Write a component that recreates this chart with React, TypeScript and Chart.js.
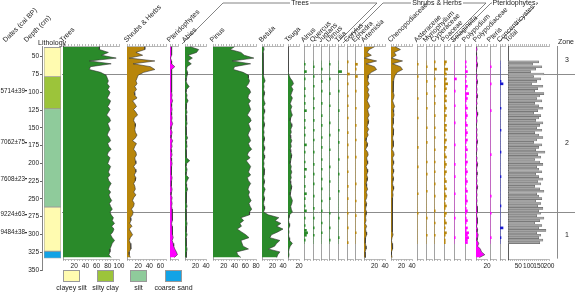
import React, { useEffect, useRef } from 'react';
import { Chart, registerables } from 'chart.js';
Chart.register(...registerables);
Chart.defaults.font.family = '"Liberation Sans", Arial, sans-serif';
Chart.defaults.color = '#222';

// ---------------- DATA ----------------
const DEPTHS = [36, 40, 44, 48, 52, 56, 60, 64, 68, 72, 76, 80, 84, 88, 92,
  96, 100, 104, 108, 112, 116, 120, 124, 128, 132, 136, 140, 144, 148, 152,
  156, 160, 164, 168, 172, 176, 180, 184, 188, 192, 196, 200, 204, 208, 212,
  216, 220, 224, 228, 232, 236, 240, 244, 248, 252, 256, 260, 264, 268, 272,
  276, 280, 284, 288, 292, 296, 300, 304, 308, 312, 316, 320, 324, 328, 332];

const TREES = [65, 65, 81, 69, 95, 47, 86, 49, 47, 67, 77, 79, 81, 79, 83,
  80, 84, 82, 79, 85, 83, 80, 84, 81, 78, 83, 85, 80, 82, 84,
  81, 79, 83, 85, 80, 82, 86, 81, 79, 84, 82, 80, 85, 83, 81,
  84, 80, 82, 86, 83, 81, 85, 82, 84, 87, 83, 85, 88, 84, 86,
  90, 88, 92, 87, 91, 89, 85, 88, 92, 88, 86, 84, 84, 82, 86];
const SHRUBS_HERBS = [32, 32, 16, 28, 4, 50, 11, 42, 50, 30, 20, 18, 16, 18, 14,
  17, 13, 14, 18, 10, 14, 17, 12, 16, 19, 13, 12, 15, 15, 14,
  15, 18, 15, 10, 17, 14, 12, 16, 17, 14, 15, 16, 12, 15, 16,
  13, 16, 15, 12, 14, 15, 12, 16, 12, 10, 13, 12, 8, 11, 10,
  6, 7, 5, 9, 4, 7, 10, 6, 4, 6, 7, 7, 4, 4, 6];
const PTERIDOPHYTES = [3, 3, 3, 3, 1, 3, 3, 9, 3, 3, 3, 3, 3, 3, 3,
  3, 3, 4, 3, 5, 3, 3, 4, 3, 3, 4, 3, 5, 3, 2,
  4, 3, 2, 5, 3, 4, 2, 3, 4, 2, 3, 4, 3, 2, 3,
  3, 4, 3, 2, 3, 4, 3, 2, 4, 3, 4, 3, 4, 5, 4,
  4, 5, 3, 4, 5, 4, 5, 6, 4, 6, 7, 9, 12, 14, 8];
const ABIES = [10, 26, 22, 6, 14, 5, 12, 4, 3, 5, 4, 3, 2, 4, 8,
  3, 2, 4, 3, 6, 3, 2, 3, 4, 2, 3, 3, 4, 2, 3,
  2, 3, 5, 2, 3, 4, 2, 3, 2, 3, 9, 3, 2, 4, 3,
  2, 7, 4, 2, 3, 5, 3, 2, 3, 2, 3, 4, 2, 3, 2,
  3, 2, 4, 3, 2, 3, 4, 2, 3, 3, 2, 4, 3, 2, 3];
const PINUS = [40, 32, 52, 58, 76, 36, 70, 40, 38, 56, 66, 66, 68, 66, 62,
  68, 70, 66, 65, 70, 66, 68, 70, 67, 64, 69, 71, 66, 68, 70,
  67, 65, 68, 70, 66, 68, 72, 66, 64, 69, 62, 66, 70, 68, 66,
  70, 64, 66, 70, 67, 65, 68, 66, 68, 71, 67, 69, 72, 68, 68,
  52, 57, 50, 53, 45, 53, 61, 67, 52, 54, 56, 66, 44, 46, 52];
const BETULA = [3, 4, 2, 3, 2, 2, 3, 2, 3, 2, 3, 4, 6, 3, 4,
  3, 5, 4, 3, 4, 6, 3, 4, 5, 3, 4, 3, 5, 4, 3,
  4, 3, 5, 4, 3, 4, 5, 3, 4, 5, 3, 4, 3, 5, 4,
  4, 3, 5, 4, 3, 6, 4, 3, 5, 4, 3, 4, 5, 3, 12,
  32, 25, 36, 28, 40, 30, 18, 15, 34, 28, 24, 12, 34, 30, 28];
const TSUGA = [0, 0, 1, 0, 0, 1, 0, 0, 1, 0, 2, 4, 8, 10, 6,
  9, 7, 5, 8, 6, 4, 7, 5, 6, 8, 5, 4, 6, 7, 5,
  6, 4, 5, 7, 5, 6, 4, 5, 7, 6, 5, 4, 6, 5, 7,
  5, 6, 4, 5, 7, 6, 5, 4, 6, 8, 7, 5, 6, 8, 3,
  2, 1, 2, 3, 1, 2, 1, 2, 3, 8, 4, 2, 1, 2, 1];
const ALNUS = [0, 1, 0, 0, 2, 0, 0, 1, 0, 0, 0, 1, 0, 0, 1,
  0, 0, 1, 0, 0, 2, 0, 0, 0, 1, 0, 0, 1, 0, 0,
  1, 0, 0, 0, 2, 0, 0, 1, 0, 0, 0, 1, 0, 0, 2,
  0, 0, 1, 0, 0, 0, 1, 0, 0, 2, 0, 1, 0, 0, 1,
  0, 2, 0, 0, 1, 0, 0, 1, 0, 2, 3, 2, 0, 1, 0];
const QUERCUS = [0, 0, 1, 0, 0, 0, 1, 0, 0, 0, 1, 0, 0, 0, 0,
  1, 0, 0, 0, 1, 0, 0, 0, 0, 1, 0, 0, 0, 1, 0,
  0, 0, 1, 0, 0, 0, 0, 1, 0, 0, 0, 0, 1, 0, 0,
  0, 1, 0, 0, 0, 1, 0, 0, 0, 0, 1, 0, 0, 0, 0,
  1, 0, 0, 0, 1, 0, 0, 0, 1, 0, 0, 1, 0, 0, 0];
const JUGLANS = [0, 0, 0, 1, 0, 0, 0, 0, 1, 0, 0, 0, 1, 0, 0,
  0, 0, 1, 0, 0, 0, 0, 1, 0, 0, 0, 1, 0, 0, 0,
  0, 1, 0, 0, 0, 1, 0, 0, 0, 0, 1, 0, 0, 0, 1,
  0, 0, 0, 1, 0, 0, 0, 1, 0, 0, 0, 0, 1, 0, 0,
  0, 1, 0, 0, 0, 0, 1, 0, 0, 0, 1, 0, 0, 0, 0];
const ULMUS = [0, 1, 0, 0, 0, 0, 0, 1, 0, 0, 0, 0, 0, 1, 0,
  0, 0, 0, 1, 0, 0, 0, 0, 0, 0, 1, 0, 0, 0, 0,
  1, 0, 0, 0, 0, 0, 1, 0, 0, 0, 0, 0, 0, 1, 0,
  0, 0, 0, 0, 1, 0, 0, 0, 0, 0, 0, 1, 0, 0, 0,
  0, 0, 1, 0, 0, 0, 0, 0, 1, 0, 0, 0, 0, 1, 0];
const TILIA = [0, 0, 0, 0, 3, 0, 0, 0, 0, 0, 0, 0, 1, 0, 0,
  0, 0, 0, 0, 0, 1, 0, 0, 0, 0, 0, 0, 0, 1, 0,
  0, 0, 0, 1, 0, 0, 0, 0, 0, 0, 1, 0, 0, 0, 0,
  0, 1, 0, 0, 0, 0, 0, 0, 1, 0, 0, 0, 0, 0, 0,
  0, 0, 0, 0, 1, 0, 0, 0, 0, 0, 0, 0, 1, 0, 0];
const CORYLUS = [1, 0, 0, 0, 0, 2, 0, 0, 0, 1, 0, 0, 0, 0, 1,
  0, 0, 0, 1, 0, 0, 0, 0, 1, 0, 0, 0, 0, 0, 1,
  0, 0, 0, 0, 1, 0, 0, 0, 0, 1, 0, 0, 0, 0, 0,
  1, 0, 0, 0, 0, 0, 1, 0, 0, 0, 0, 1, 0, 0, 0,
  0, 0, 1, 0, 0, 0, 0, 0, 1, 0, 0, 0, 0, 0, 1];
const EPHEDRA = [0, 2, 0, 1, 0, 0, 2, 0, 0, 0, 0, 0, 1, 0, 0,
  0, 0, 0, 0, 1, 0, 0, 0, 0, 0, 0, 1, 0, 0, 0,
  0, 0, 1, 0, 0, 0, 0, 0, 0, 1, 0, 0, 0, 0, 0,
  0, 0, 0, 0, 0, 1, 0, 0, 0, 0, 0, 0, 1, 0, 0,
  0, 0, 0, 1, 0, 0, 0, 0, 0, 0, 1, 0, 0, 0, 0];
const ARTEMISIA = [20, 10, 6, 14, 1, 24, 4, 20, 24, 14, 8, 8, 7, 10, 6,
  9, 7, 10, 8, 6, 9, 11, 7, 8, 10, 7, 9, 8, 6, 9,
  6, 8, 5, 4, 7, 6, 3, 7, 8, 5, 6, 7, 4, 6, 7,
  5, 7, 6, 4, 5, 7, 4, 6, 5, 3, 5, 4, 3, 5, 4,
  3, 4, 2, 5, 3, 4, 5, 3, 2, 3, 4, 4, 2, 2, 3];
const CHENOPODIACEAE = [8, 18, 6, 10, 1, 22, 3, 18, 22, 12, 8, 6, 5, 4, 4,
  5, 4, 6, 5, 3, 5, 7, 4, 5, 6, 4, 5, 4, 3, 5,
  4, 5, 3, 4, 5, 4, 2, 5, 6, 3, 4, 5, 3, 4, 5,
  3, 5, 4, 3, 4, 5, 3, 4, 3, 2, 3, 3, 2, 3, 3,
  2, 3, 2, 3, 2, 3, 4, 2, 1, 2, 3, 3, 1, 1, 2];
const ASTERACEAE = [0, 1, 0, 0, 0, 0, 1, 0, 0, 0, 0, 0, 0, 0, 0,
  1, 0, 0, 0, 0, 0, 0, 0, 1, 0, 0, 0, 0, 0, 0,
  0, 0, 0, 0, 0, 1, 0, 0, 0, 0, 0, 0, 0, 1, 0,
  0, 0, 0, 0, 0, 0, 0, 0, 0, 1, 0, 0, 0, 0, 0,
  0, 0, 1, 0, 0, 0, 0, 0, 0, 0, 0, 0, 0, 0, 0];
const MYRIOPHYLLUM = [0, 0, 1, 0, 0, 0, 0, 0, 1, 0, 0, 0, 0, 1, 0,
  0, 0, 0, 0, 1, 0, 0, 0, 0, 0, 0, 0, 1, 0, 0,
  0, 0, 0, 1, 0, 0, 0, 0, 0, 0, 0, 1, 0, 0, 0,
  0, 1, 0, 0, 0, 0, 0, 0, 1, 0, 0, 0, 0, 0, 0,
  0, 0, 0, 0, 1, 0, 0, 0, 0, 0, 0, 1, 0, 0, 0];
const CYPERACEAE = [1, 0, 0, 2, 0, 0, 0, 1, 0, 0, 1, 0, 0, 0, 1,
  0, 0, 1, 0, 0, 0, 0, 1, 0, 0, 0, 0, 1, 0, 0,
  0, 1, 0, 0, 0, 0, 1, 0, 0, 0, 0, 1, 0, 0, 0,
  1, 0, 0, 0, 0, 1, 0, 0, 0, 0, 1, 0, 0, 0, 0,
  0, 1, 0, 0, 0, 0, 1, 0, 0, 0, 0, 1, 0, 0, 0];
const POACEAE = [2, 1, 0, 3, 1, 2, 0, 2, 1, 3, 1, 2, 1, 0, 2,
  1, 2, 0, 1, 2, 1, 0, 2, 1, 1, 0, 2, 1, 2, 0,
  1, 0, 2, 1, 0, 2, 1, 0, 1, 2, 0, 1, 2, 1, 0,
  2, 1, 0, 1, 2, 0, 1, 2, 0, 1, 2, 1, 0, 1, 2,
  1, 0, 2, 1, 0, 1, 2, 0, 1, 0, 2, 1, 0, 1, 1];
const SELAGINELLA = [0, 0, 0, 0, 0, 0, 0, 2, 0, 0, 0, 0, 1, 0, 0,
  0, 0, 0, 1, 0, 0, 0, 0, 0, 0, 1, 0, 0, 0, 0,
  0, 0, 0, 0, 1, 0, 0, 0, 0, 0, 0, 0, 1, 0, 0,
  0, 0, 1, 0, 0, 0, 0, 0, 0, 1, 0, 0, 0, 0, 0,
  0, 0, 0, 0, 1, 0, 0, 0, 0, 0, 0, 0, 1, 0, 0];
const POLYPODIUM = [1, 0, 1, 0, 2, 0, 1, 0, 1, 0, 2, 1, 0, 3, 1,
  2, 1, 0, 1, 2, 0, 1, 2, 1, 0, 1, 2, 0, 1, 2,
  1, 0, 2, 1, 0, 1, 2, 0, 1, 1, 0, 2, 1, 0, 1,
  2, 1, 0, 1, 2, 1, 0, 1, 2, 0, 1, 1, 2, 1, 0,
  1, 2, 1, 0, 1, 2, 1, 0, 2, 1, 3, 2, 3, 2, 2];
const POLYPODIACEAE = [1, 2, 0, 1, 2, 1, 3, 2, 1, 0, 2, 1, 3, 2, 1,
  2, 1, 3, 2, 1, 2, 0, 1, 2, 3, 1, 2, 1, 0, 2,
  1, 2, 1, 3, 2, 1, 2, 1, 0, 2, 1, 3, 2, 1, 2,
  2, 1, 2, 1, 3, 2, 1, 2, 1, 2, 1, 2, 3, 2, 1,
  2, 3, 2, 1, 3, 2, 4, 3, 2, 5, 3, 8, 10, 16, 6];
const PTERIS = [0, 0, 1, 0, 0, 0, 0, 0, 0, 1, 0, 0, 0, 0, 0,
  0, 0, 0, 0, 0, 1, 0, 0, 0, 0, 0, 0, 0, 0, 0,
  0, 0, 0, 0, 0, 0, 0, 0, 1, 0, 0, 0, 0, 0, 0,
  0, 0, 0, 0, 0, 0, 0, 0, 0, 0, 1, 0, 0, 0, 0,
  0, 0, 1, 0, 0, 0, 0, 0, 0, 0, 0, 0, 1, 0, 0];
const CONCENTRICYSTES = [0, 0, 0, 0, 0, 0, 0, 0, 1, 3, 0, 0, 0, 0, 0,
  0, 0, 0, 0, 1, 0, 0, 0, 0, 0, 0, 0, 0, 1, 0,
  0, 0, 0, 0, 0, 0, 0, 1, 0, 0, 0, 0, 0, 0, 0,
  0, 0, 1, 0, 0, 0, 0, 0, 0, 0, 0, 0, 0, 0, 1,
  0, 0, 0, 0, 0, 0, 0, 0, 3, 0, 0, 0, 1, 0, 0];
const TOTAL = [150, 120, 165, 135, 110, 175, 125, 160, 140, 115, 170, 145, 130, 175, 155,
  140, 165, 130, 150, 170, 145, 125, 160, 150, 135, 170, 155, 140, 165, 130,
  150, 170, 140, 125, 165, 150, 135, 180, 145, 160, 130, 155, 170, 140, 150,
  165, 135, 150, 170, 145, 160, 130, 155, 175, 140, 150, 165, 135, 160, 145,
  170, 150, 160, 140, 175, 155, 130, 165, 150, 185, 140, 160, 150, 170, 155];

const DEPTH_TICKS = [50, 75, 100, 125, 150, 175, 200, 225, 250, 275, 300, 325, 350];
const DATE_DEPTHS = [98, 171, 222, 272, 297];
const DATE_LABELS = ['5714±39', '7062±75', '7608±23', '9224±63', '9484±38'];
const ZONE_BOUNDS = [35, 74, 269, 334];
const ZONE_NAMES = ['3', '2', '1'];
const LITH_TOP = [37, 78, 123, 261, 323];
const LITH_BOTTOM = [78, 123, 261, 323, 333];
const LITH_KIND = [0, 1, 2, 0, 3];
const LITH_NAMES = ['clayey silt', 'silty clay', 'silt', 'coarse sand'];

// ---------------- STYLE / LAYOUT ----------------
const LITH_COLORS = ['#fffbb0', '#9cc43a', '#8fcb9b', '#12a3e6'];
const GREEN = '#2a8a2a';
const BROWN = '#b8860b';
const PINK = '#ff00ff';
const BLUE = '#1a1ad0';
const GRAY = '#a3a3a3';
const AXIS = '#8a8a8a';
const EDGE = '#333';
const PLOT_TOP = 46;
const PLOT_H = 213;
const Y_MIN = 35;
const Y_MAX = 334;
const PADL = 6;
const PADR = 9;
const BOTAX = 12;
const TOPAX = 2;
const ZONE_COL_X = 557;
const ZONE_LABEL_X = 567;

type PanelDef = {
  name: string; values: number[]; x: number; w: number; max: number;
  step: number; labelStep: number; color: string; kind: 'area' | 'bar';
};

const minor = (name: string, values: number[], x: number, color: string, w = 6): PanelDef =>
  ({ name, values, x, w, max: 5, step: 2.5, labelStep: 0, color, kind: 'bar' });

const PANELS: PanelDef[] = [
  { name: 'Trees', values: TREES, x: 63, w: 56, max: 100, step: 5, labelStep: 20, color: GREEN, kind: 'area' },
  { name: 'Shrubs & Herbs', values: SHRUBS_HERBS, x: 127, w: 39, max: 70, step: 5, labelStep: 20, color: BROWN, kind: 'area' },
  { name: 'Pteridophytes', values: PTERIDOPHYTES, x: 170, w: 8, max: 15, step: 5, labelStep: 0, color: PINK, kind: 'area' },
  { name: 'Abies', values: ABIES, x: 185, w: 21, max: 40, step: 5, labelStep: 20, color: GREEN, kind: 'area' },
  { name: 'Pinus', values: PINUS, x: 213, w: 43, max: 80, step: 5, labelStep: 20, color: GREEN, kind: 'area' },
  { name: 'Betula', values: BETULA, x: 262, w: 21, max: 40, step: 5, labelStep: 20, color: GREEN, kind: 'area' },
  { name: 'Tsuga', values: TSUGA, x: 288, w: 11, max: 20, step: 5, labelStep: 20, color: GREEN, kind: 'area' },
  minor('Alnus', ALNUS, 304, GREEN),
  minor('Quercus', QUERCUS, 313, GREEN),
  minor('Juglans', JUGLANS, 321, GREEN),
  minor('Ulmus', ULMUS, 329, GREEN),
  minor('Tilia', TILIA, 338, GREEN),
  minor('Corylus', CORYLUS, 347, BROWN),
  minor('Ephedra', EPHEDRA, 355, BROWN),
  { name: 'Artemisia', values: ARTEMISIA, x: 364, w: 21, max: 40, step: 5, labelStep: 20, color: BROWN, kind: 'area' },
  { name: 'Chenopodiaceae', values: CHENOPODIACEAE, x: 391, w: 21, max: 40, step: 5, labelStep: 20, color: BROWN, kind: 'area' },
  minor('Asteraceae', ASTERACEAE, 417, BROWN),
  minor('Myriophyllum', MYRIOPHYLLUM, 426, BROWN),
  minor('Cyperaceae', CYPERACEAE, 434, BROWN),
  minor('Poaceae', POACEAE, 444, BROWN),
  minor('Selaginella', SELAGINELLA, 454, PINK),
  minor('Polypodium', POLYPODIUM, 465, PINK),
  { name: 'Polypodiaceae', values: POLYPODIACEAE, x: 476, w: 11, max: 20, step: 5, labelStep: 20, color: PINK, kind: 'area' },
  minor('Pteris', PTERIS, 490, PINK),
  minor('Concentricystes', CONCENTRICYSTES, 500, BLUE, 5),
  { name: 'Total', values: TOTAL, x: 508, w: 41, max: 200, step: 10, labelStep: 50, color: GRAY, kind: 'bar' },
];

const BRACKETS = [
  { label: 'Trees', cx: 300, pts: '182,44 223,3 377,3 338,42' },
  { label: 'Shrubs & Herbs', cx: 437, pts: '343,43 383,3 486,3 448,41' },
  { label: 'Pteridophytes', cx: 514, pts: '452,42 491,3 538,3 499,42' },
];
const LEGEND_X = [63, 97, 130, 165];

// ---------------- CHART HELPERS ----------------
function ChartBox({ left, top, width, height, make }: any) {
  const ref = useRef<HTMLCanvasElement>(null);
  useEffect(() => {
    const ch = make(ref.current);
    return () => ch.destroy();
  }, []);
  return (
    <canvas ref={ref} width={width} height={height}
      style={{ position: 'absolute', left, top, width, height }} />
  );
}

const baseOpts = {
  animation: false as const, responsive: false, events: [] as any[],
  plugins: { legend: { display: false }, tooltip: { enabled: false } },
};

function makePanel(p: PanelDef) {
  return (canvas: HTMLCanvasElement) => {
    const grid = { drawOnChartArea: false, tickLength: 2, color: AXIS, lineWidth: 0.6 };
    const border = { color: AXIS, width: 0.6 };
    const data = DEPTHS.map((d, i) => ({ x: p.values[i], y: d }));
    const isTotal = p.name === 'Total';
    const ds: any = p.kind === 'area'
      ? { data, fill: 'origin', backgroundColor: p.color, borderColor: EDGE, borderWidth: 0.6, pointRadius: 0, tension: 0 }
      : { data, backgroundColor: p.color, barThickness: 2, borderColor: '#555', borderWidth: isTotal ? 0.4 : 0, borderSkipped: false };
    return new Chart(canvas, {
      type: p.kind === 'area' ? 'line' : 'bar',
      data: { datasets: [ds] },
      options: {
        ...baseOpts,
        indexAxis: 'y',
        layout: { padding: { left: PADL, right: PADR, top: 2, bottom: 0 } },
        scales: {
          x: {
            type: 'linear', position: 'bottom', min: 0, max: p.max,
            afterFit: (s: any) => { s.height = BOTAX; },
            ticks: {
              stepSize: p.step, autoSkip: false, maxRotation: 0, minRotation: 0, padding: 1,
              font: { size: 6.5 }, color: '#222',
              callback: (v: any) => (p.labelStep && v > 0 && v % p.labelStep === 0 ? String(v) : ''),
            },
            grid, border,
          },
          xt: {
            type: 'linear', position: 'top', min: 0, max: p.max,
            afterFit: (s: any) => { s.height = TOPAX; },
            ticks: { display: false, stepSize: p.step },
            grid, border,
          },
          y: {
            type: 'linear', min: Y_MIN, max: Y_MAX, reverse: true,
            afterFit: (s: any) => { s.width = 0; },
            ticks: { display: false }, grid: { display: false },
            border: { display: true, color: isTotal ? '#333' : AXIS, width: 0.8 },
          },
        },
      } as any,
    });
  };
}

function makeDepthAxis(canvas: HTMLCanvasElement) {
  return new Chart(canvas, {
    type: 'scatter',
    data: { datasets: [] },
    options: {
      ...baseOpts,
      layout: { padding: { left: 0, right: 0, top: 6, bottom: 6 } },
      scales: {
        x: { display: false, min: 0, max: 1 },
        y: {
          type: 'linear', position: 'left', weight: 0, min: 35, max: 350, reverse: true,
          afterBuildTicks: (s: any) => { s.ticks = DEPTH_TICKS.map((v) => ({ value: v })); },
          afterFit: (s: any) => { s.width = 15; },
          ticks: { font: { size: 6.5 }, color: '#222', padding: 1, autoSkip: false },
          grid: { drawOnChartArea: false, tickLength: 2, color: '#666' },
          border: { color: '#666', width: 0.8 },
        },
        yd: {
          type: 'linear', axis: 'y', position: 'left', weight: 1, min: 35, max: 350, reverse: true,
          afterBuildTicks: (s: any) => { s.ticks = DATE_DEPTHS.map((v) => ({ value: v })); },
          afterFit: (s: any) => { s.width = 27; },
          ticks: {
            font: { size: 6.3 }, color: '#222', padding: 0, autoSkip: false,
            callback: (_v: any, i: number) => DATE_LABELS[i],
          },
          grid: { display: true, drawOnChartArea: false, drawTicks: true, tickLength: 2, color: '#333', lineWidth: 1.2 },
          border: { display: false },
        },
      },
    } as any,
  });
}

function makeLithology(canvas: HTMLCanvasElement) {
  return new Chart(canvas, {
    type: 'bar',
    data: {
      labels: ['L'],
      datasets: LITH_TOP.map((t, k) => ({
        data: [[t, LITH_BOTTOM[k]]],
        backgroundColor: LITH_COLORS[LITH_KIND[k]],
        borderColor: '#9a9a9a', borderWidth: 0.8, borderSkipped: false,
        barPercentage: 1, categoryPercentage: 1, grouped: false,
      })),
    },
    options: {
      ...baseOpts,
      layout: { padding: { left: 4, right: 4, top: 4, bottom: 4 } },
      scales: {
        x: { type: 'category', display: false },
        y: { type: 'linear', display: false, min: Y_MIN, max: Y_MAX, reverse: true },
      },
    } as any,
  });
}

const zonePlugin = {
  id: 'zones',
  afterDraw(chart: any) {
    const { ctx, chartArea, scales } = chart;
    const y = scales.y;
    ctx.save();
    ctx.strokeStyle = '#8c8c8c';
    ctx.lineWidth = 1;
    ZONE_BOUNDS.slice(1, -1).forEach((d) => {
      const py = Math.round(y.getPixelForValue(d)) + 0.5;
      ctx.beginPath(); ctx.moveTo(chartArea.left, py); ctx.lineTo(chartArea.right, py); ctx.stroke();
    });
    ctx.beginPath();
    ctx.moveTo(ZONE_COL_X + 0.5, y.getPixelForValue(ZONE_BOUNDS[0]));
    ctx.lineTo(ZONE_COL_X + 0.5, y.getPixelForValue(ZONE_BOUNDS[ZONE_BOUNDS.length - 1]));
    ctx.stroke();
    ctx.fillStyle = '#222';
    ctx.font = '7px "Liberation Sans", Arial, sans-serif';
    ctx.textAlign = 'center';
    ctx.textBaseline = 'middle';
    ZONE_NAMES.forEach((n, k) => {
      ctx.fillText(n, ZONE_LABEL_X, y.getPixelForValue((ZONE_BOUNDS[k] + ZONE_BOUNDS[k + 1]) / 2));
    });
    ctx.fillText('Zone', ZONE_LABEL_X - 1, y.getPixelForValue(ZONE_BOUNDS[0]) - 4);
    ctx.restore();
  },
};

function makeBackground(canvas: HTMLCanvasElement) {
  return new Chart(canvas, {
    type: 'scatter',
    data: { datasets: [] },
    options: {
      ...baseOpts,
      layout: { padding: { left: 62, right: 0, top: 46, bottom: 22 } },
      scales: {
        x: { display: false, min: 0, max: 1 },
        y: { display: false, min: 35, max: 350, reverse: true },
      },
    } as any,
    plugins: [zonePlugin],
  });
}

function RotLabel({ text, x, y }: { text: string; x: number; y: number }) {
  return (
    <div style={{
      position: 'absolute', left: x, top: y - 8, height: 8, lineHeight: '8px', fontSize: 7,
      whiteSpace: 'nowrap', transformOrigin: '0 100%', transform: 'rotate(-45deg)', color: '#222',
    }}>{text}</div>
  );
}

export default function App() {
  return (
    <div style={{
      position: 'absolute', left: 0, top: 0, width: 575, height: 292, overflow: 'hidden',
      background: '#fff', fontFamily: '"Liberation Sans", Arial, sans-serif',
    }}>
      <ChartBox left={0} top={0} width={575} height={292} make={makeBackground} />
      <ChartBox left={0} top={PLOT_TOP - 6} width={43} height={236} make={makeDepthAxis} />
      <ChartBox left={40} top={PLOT_TOP - 4} width={25} height={PLOT_H + 8} make={makeLithology} />
      {PANELS.map((p) => (
        <ChartBox key={p.name} left={p.x - PADL} top={PLOT_TOP - 4}
          width={p.w + PADL + PADR} height={PLOT_H + 4 + BOTAX} make={makePanel(p)} />
      ))}
      <svg width={575} height={292} style={{ position: 'absolute', left: 0, top: 0, pointerEvents: 'none' }}>
        {BRACKETS.map((b) => (
          <polyline key={b.label} points={b.pts} fill="none" stroke="#666" strokeWidth={0.8} />
        ))}
      </svg>
      {BRACKETS.map((b) => (
        <div key={b.label} style={{
          position: 'absolute', left: b.cx - 40, width: 80, top: -1, textAlign: 'center',
          fontSize: 7, lineHeight: '8px', color: '#222',
        }}><span style={{ background: '#fff', padding: '0 1px' }}>{b.label}</span></div>
      ))}
      <RotLabel text="Dates (cal BP)" x={7} y={44} />
      <RotLabel text="Depth (cm)" x={28} y={44} />
      <div style={{ position: 'absolute', left: 38, top: 39, fontSize: 7, lineHeight: '8px', color: '#222' }}>Lithology</div>
      {PANELS.map((p) => (
        <RotLabel key={p.name} text={p.name} x={p.x + 1} y={44} />
      ))}
      {LITH_NAMES.map((n, k) => (
        <React.Fragment key={n}>
          <div style={{
            position: 'absolute', left: LEGEND_X[k], top: 270, width: 17, height: 12,
            background: LITH_COLORS[k], border: '1px solid #999', boxSizing: 'border-box',
          }} />
          <div style={{
            position: 'absolute', left: LEGEND_X[k] - 16, width: 49, top: 284, fontSize: 7,
            lineHeight: '8px', textAlign: 'center', color: '#222',
          }}>{n}</div>
        </React.Fragment>
      ))}
    </div>
  );
}
